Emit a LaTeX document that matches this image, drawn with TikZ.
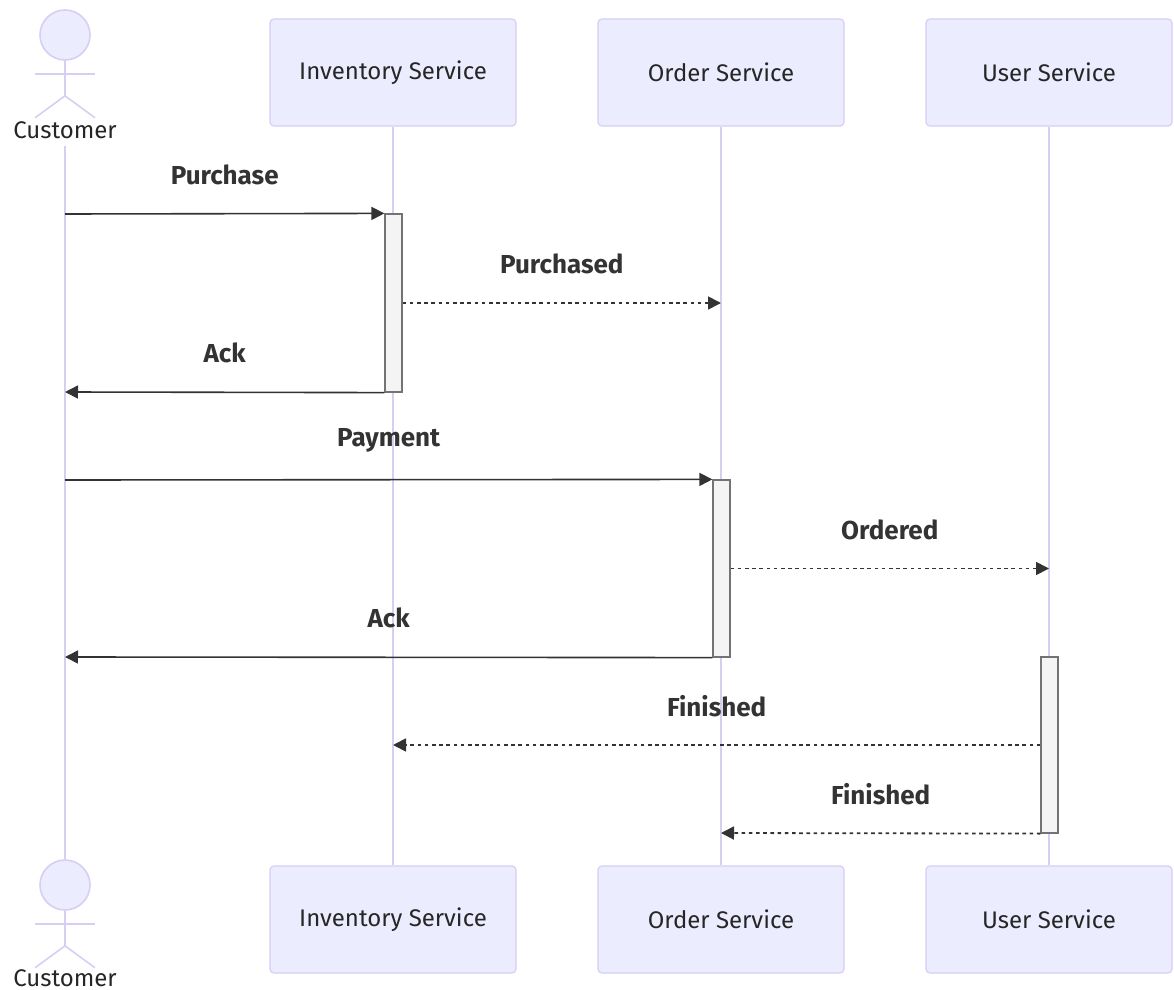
\documentclass[tikz,border=0pt]{standalone}
\usepackage{fontspec}
\setmainfont{Fira Sans}
\usetikzlibrary{arrows.meta}
\definecolor{actfill}{HTML}{ECECFF}
\definecolor{actline}{HTML}{D8CDF3}
\definecolor{barfill}{HTML}{F4F4F4}
\definecolor{msgcol}{HTML}{333333}
\tikzset{
  actor/.style={draw=actline, fill=actfill, rounded corners=2pt, line width=0.6pt,
    minimum width=123pt, minimum height=53.5pt, font=\fontsize{12}{14}\selectfont, text=black!85},
  head/.style={circle, draw=actline, fill=actfill, line width=0.8pt, minimum size=25pt, inner sep=0pt},
  limb/.style={draw=actline, line width=0.8pt},
  life/.style={draw=actline, line width=0.8pt},
  actbar/.style={draw=black!55, fill=barfill, line width=0.6pt, minimum width=8.5pt, inner sep=0pt},
  msg/.style={draw=msgcol, line width=0.8pt, -{Triangle[length=6.5pt,width=6.5pt]}},
  reply/.style={msg, line width=0.9pt, dash pattern=on 1.8pt off 1.8pt},
  lbl/.style={font=\bfseries\fontsize{13}{15}\selectfont, text=msgcol, yshift=19.5pt},
}
\begin{document}
\begin{tikzpicture}[x=0.5pt, y=-0.5pt]
  \useasboundingbox (0,0) rectangle (1174,990);
  % participants
  \node[actor] (inv) at (393, 72.5) {Inventory Service};
  \node[actor] (ord) at (721, 72.5) {Order Service};
  \node[actor] (usr) at (1049, 72.5) {User Service};
  \node[actor] (inv2) at (393, 919.5) {Inventory Service};
  \node[actor] (ord2) at (721, 919.5) {Order Service};
  \node[actor] (usr2) at (1049, 919.5) {User Service};
  % customer (stick figures)
  \node[head] (h1) at (65, 35) {};
  \node[head] (h2) at (65, 885) {};
  \foreach \h in {h1,h2} {
    \draw[limb] (\h.south) -- ++(0,35) -- ++(-30,22);
    \draw[limb] (\h.south) ++(0,35) -- ++(30,22);
    \draw[limb] (\h.south) ++(-30,13) -- ++(60,0);
  }
  \node[font=\fontsize{12}{14}\selectfont, text=black!85] (cust) at (65, 130) {Customer};
  \node[font=\fontsize{12}{14}\selectfont, text=black!85] (cust2) at (65, 978) {Customer};
  % lifelines
  \draw[life] (cust.south) -- (h2.north);
  \foreach \a in {inv,ord,usr}
    \draw[life] (\a.south) -- (\a2.north);
  % activations
  \node[actbar, minimum height=89pt] (a1) at (393.5, 303) {};
  \node[actbar, minimum height=88.5pt] (a2) at (721.5, 568.5) {};
  \node[actbar, minimum height=88pt] (a3) at (1049.5, 745) {};
  % message ends
  \coordinate (c1) at (65, 214);
  \coordinate (o1) at (721, 303);
  \coordinate (c2) at (65, 392);
  \coordinate (c3) at (65, 480);
  \coordinate (u1) at (1049, 568.5);
  \coordinate (c4) at (65, 657);
  \coordinate (i1) at (393, 745);
  \coordinate (o2) at (721, 833);
  % messages
  \draw[msg] (c1) -- (a1.north west) node[lbl, midway] {Purchase};
  \draw[reply] (a1.east) -- (o1) node[lbl, midway] {Purchased};
  \draw[msg] (a1.south west) -- (c2) node[lbl, midway] {Ack};
  \draw[msg] (c3) -- (a2.north west) node[lbl, midway] {Payment};
  \draw[reply] (a2.east) -- (u1) node[lbl, midway] {Ordered};
  \draw[msg] (a2.south west) -- (c4) node[lbl, midway] {Ack};
  \draw[reply] (a3.west) -- (i1) node[lbl, midway] {Finished};
  \draw[reply] (a3.south west) -- (o2) node[lbl, midway] {Finished};
\end{tikzpicture}
\end{document}
